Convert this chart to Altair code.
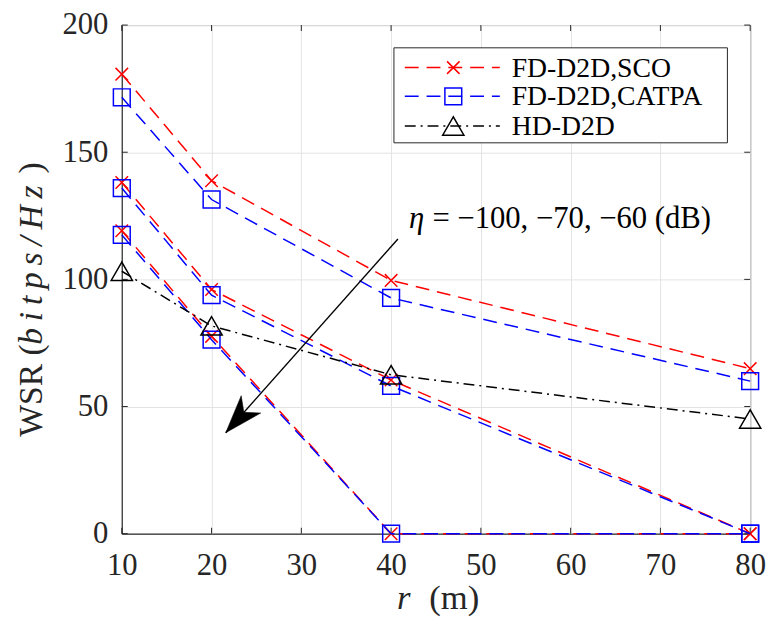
import math
import altair as alt
import pandas as pd

# ---------------- data ----------------
r_values = [10, 20, 40, 80]
eta_levels = ["-100", "-70", "-60"]

sco_eta_100 = [180.7, 138.8, 99.6, 64.9]
sco_eta_70 = [138.1, 96.0, 60.4, 0.0]
sco_eta_60 = [119.1, 77.6, 0.0, 0.0]

catpa_eta_100 = [171.6, 131.4, 92.7, 60.0]
catpa_eta_70 = [135.9, 93.8, 58.1, 0.0]
catpa_eta_60 = [117.5, 76.3, 0.0, 0.0]

hd_d2d = [103.2, 81.7, 62.5, 45.1]

x_ticks = [10, 20, 30, 40, 50, 60, 70, 80]
y_ticks = [0, 50, 100, 150, 200]

legend_labels = ["FD-D2D,SCO", "FD-D2D,CATPA", "HD-D2D"]

annot_eta = "η"
annot_rest = "=  −100, −70, −60  (dB)"
annot_pos = [42.0, 123.7]
annot_rest_pos = [44.6, 123.7]
arrow_from = [40.76, 115.9]
arrow_to = [21.58, 39.7]

# ---------------- layout / style ----------------
W, H = 635, 514
FONT = "Liberation Serif, Times New Roman, Times, serif"
INK = "#262626"
RED, BLUE, BLACK = "#ff0000", "#0000ff", "#000000"
DASH = [14, 8]
DASHDOT = [11, 5, 2, 5]
X_SHAPE = "M-1,-1L1,1M-1,1L1,-1"
ARROW_SHAPE = "M0,0L0.55,1.6L0,1.15L-0.55,1.6Z"
THIN = "\u2009"


def frame(vals_list):
    rows = []
    for eta, vals in zip(eta_levels, vals_list):
        for r, v in zip(r_values, vals):
            rows.append({"r": r, "wsr": v, "eta": eta})
    return pd.DataFrame(rows)


sco_df = frame([sco_eta_100, sco_eta_70, sco_eta_60])
catpa_df = frame([catpa_eta_100, catpa_eta_70, catpa_eta_60])
hd_df = pd.DataFrame({"r": r_values, "wsr": hd_d2d, "eta": "hd"})

xs = alt.Scale(domain=[10, 80], nice=False, zero=False)
ys = alt.Scale(domain=[0, 200], nice=False, zero=False)

x_axis = alt.Axis(values=x_ticks, title=None, grid=True, gridColor="#e3e3e3",
                  gridWidth=1, ticks=False, domain=True, domainColor=INK,
                  labelFont=FONT, labelFontSize=31, labelColor=INK,
                  labelPadding=17, format="d", labelFlush=False)
y_axis = alt.Axis(values=y_ticks, title=None, grid=True, gridColor="#e3e3e3",
                  gridWidth=1, ticks=False, domain=True, domainColor=INK,
                  labelFont=FONT, labelFontSize=31, labelColor=INK,
                  labelPadding=14, format="d", labelFlush=False)


def X(field="r"):
    return alt.X(f"{field}:Q", scale=xs, axis=x_axis)


def Y(field="wsr"):
    return alt.Y(f"{field}:Q", scale=ys, axis=y_axis)


def series(df, color, dash, shape, size):
    line = alt.Chart(df).mark_line(color=color, strokeDash=dash, strokeWidth=1.5).encode(
        x=X(), y=Y(), detail="eta:N")
    pts = alt.Chart(df).mark_point(shape=shape, size=size, color=color, filled=False,
                                   strokeWidth=1.5, opacity=1).encode(x=X(), y=Y())
    return [line, pts]


# inward ticks (MATLAB style box)
xt_df = pd.DataFrame({"t": x_ticks})
yt_df = pd.DataFrame({"t": y_ticks})
tick_layers = [
    alt.Chart(xt_df).mark_rule(color=INK, strokeWidth=1).encode(
        x=X("t"), y=alt.value(H), y2=alt.value(H - 6)),
    alt.Chart(xt_df).mark_rule(color=INK, strokeWidth=1).encode(
        x=X("t"), y=alt.value(0), y2=alt.value(6)),
    alt.Chart(yt_df).mark_rule(color=INK, strokeWidth=1).encode(
        y=Y("t"), x=alt.value(0), x2=alt.value(6)),
    alt.Chart(yt_df).mark_rule(color=INK, strokeWidth=1).encode(
        y=Y("t"), x=alt.value(W), x2=alt.value(W - 6)),
]

# annotation arrow
arrow_df = pd.DataFrame({"x": [arrow_from[0]], "y": [arrow_from[1]],
                         "x2": [arrow_to[0]], "y2": [arrow_to[1]]})
dx_px = (arrow_to[0] - arrow_from[0]) * W / 70.0
dy_px = -(arrow_to[1] - arrow_from[1]) * H / 200.0
arrow_angle = math.degrees(math.atan2(dx_px, -dy_px)) % 360

arrow_line = alt.Chart(arrow_df).mark_rule(color=BLACK, strokeWidth=1.4).encode(
    x=X("x"), y=Y("y"), x2="x2:Q", y2="y2:Q")
arrow_head = alt.Chart(arrow_df).mark_point(
    shape=ARROW_SHAPE, size=2300, filled=True, fill=BLACK, stroke=BLACK,
    strokeWidth=0.5, opacity=1, angle=arrow_angle).encode(x=X("x2"), y=Y("y2"))

annot_df = pd.DataFrame({"x": [annot_pos[0], annot_rest_pos[0]],
                         "y": [annot_pos[1], annot_rest_pos[1]],
                         "txt": [annot_eta, annot_rest]})
annot_eta_layer = alt.Chart(annot_df.iloc[[0]]).mark_text(
    font=FONT, fontSize=31, fontStyle="italic", align="left", baseline="middle",
    color=BLACK).encode(x=X("x"), y=Y("y"), text="txt:N")
annot_rest_layer = alt.Chart(annot_df.iloc[[1]]).mark_text(
    font=FONT, fontSize=31, align="left", baseline="middle",
    color=BLACK).encode(x=X("x"), y=Y("y"), text="txt:N")

# legend (drawn manually so that each entry shows line + marker)
one = pd.DataFrame({"a": [0]})
legend_layers = [
    alt.Chart(one).mark_rect(fill="white", stroke=INK, strokeWidth=1).encode(
        x=alt.value(275), x2=alt.value(612), y=alt.value(23), y2=alt.value(119))
]
legend_specs = [
    (legend_labels[0], RED, DASH, X_SHAPE, 160, 43),
    (legend_labels[1], BLUE, DASH, "square", 289, 72),
    (legend_labels[2], BLACK, DASHDOT, "triangle-up", 460, 102),
]
for label, color, dash, shape, size, ly in legend_specs:
    ldf = pd.DataFrame({"label": [label]})
    legend_layers.append(alt.Chart(ldf).mark_rule(color=color, strokeDash=dash, strokeWidth=1.5).encode(
        x=alt.value(286), x2=alt.value(382), y=alt.value(ly)))
    legend_layers.append(alt.Chart(ldf).mark_point(shape=shape, size=size, color=color, filled=False,
                                                   strokeWidth=1.5, opacity=1).encode(
        x=alt.value(335), y=alt.value(ly)))
    legend_layers.append(alt.Chart(ldf).mark_text(font=FONT, fontSize=28, align="left",
                                                  baseline="middle", color=BLACK).encode(
        x=alt.value(394), y=alt.value(ly + 1), text="label:N"))

# axis titles (mixed upright / italic pieces)
title_layers = []
ytitle_pieces = [("WSR (", "normal", "left", 416),
                 (THIN.join("bitps/Hz"), "italic", "left", 323),
                 (")", "normal", "left", 150)]
for txt, style, al, yy in ytitle_pieces:
    tdf = pd.DataFrame({"txt": [txt]})
    title_layers.append(alt.Chart(tdf).mark_text(
        font=FONT, fontSize=34, fontStyle=style, angle=270, align=al,
        baseline="middle", color=INK).encode(x=alt.value(-91), y=alt.value(yy), text="txt:N"))
xtitle_pieces = [("r", "italic", 285), ("(m)", "normal", 336)]
for txt, style, xx in xtitle_pieces:
    tdf = pd.DataFrame({"txt": [txt]})
    title_layers.append(alt.Chart(tdf).mark_text(
        font=FONT, fontSize=35, fontStyle=style, align="center",
        baseline="alphabetic", color=INK).encode(x=alt.value(xx), y=alt.value(590), text="txt:N"))

layers = (tick_layers
          + series(sco_df, RED, DASH, X_SHAPE, 160)
          + series(catpa_df, BLUE, DASH, "square", 289)
          + series(hd_df, BLACK, DASHDOT, "triangle-up", 460)
          + [arrow_line, arrow_head, annot_eta_layer, annot_rest_layer]
          + legend_layers + title_layers)

chart = alt.layer(*layers).properties(
    width=W, height=H,
    autosize=alt.AutoSizeParams(type="none"),
    padding={"left": 115, "top": 14, "right": 16, "bottom": 87},
    background="white",
).configure_view(stroke=INK, strokeWidth=1)

chart.save("out.html", embed_options={"renderer": "svg", "actions": False})
